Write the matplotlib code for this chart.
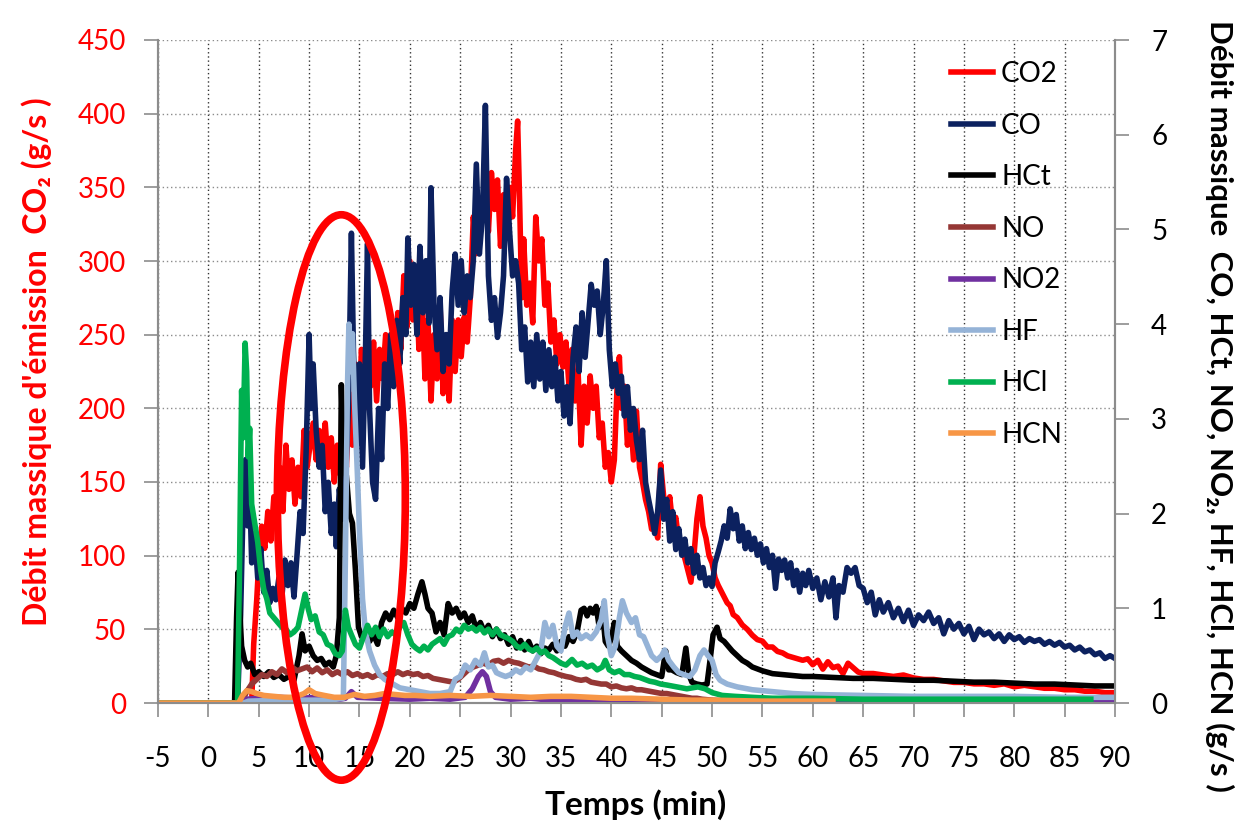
import matplotlib
matplotlib.use("Agg")
import matplotlib.pyplot as plt
from matplotlib.patches import Ellipse

# ---- data (time in min) ----
t_co2 = [-5, 4.3, 4.5, 4.8, 5.0, 5.3, 5.6, 5.9, 6.2, 6.5, 6.8, 7.1, 7.4, 7.7, 8.0, 8.3, 8.6, 8.9, 9.2, 9.5,
         9.8, 10.1, 10.4, 10.7, 11.0, 11.3, 11.6, 11.9, 12.2, 12.5, 12.8, 13.1, 13.4, 13.7, 14.0, 14.3, 14.6,
         14.9, 15.2, 15.5, 15.8, 16.1, 16.4, 16.7, 17.0, 17.3, 17.6, 17.9, 18.2, 18.5, 18.8, 19.1, 19.4, 19.7,
         20.0, 20.3, 20.6, 20.9, 21.2, 21.5, 21.8, 22.1, 22.4, 22.7, 23.0, 23.3, 23.6, 23.9, 24.2, 24.5, 24.8,
         25.1, 25.4, 25.7, 26.0, 26.3, 26.6, 26.9, 27.2, 27.5, 27.8, 28.1, 28.4, 28.7, 29.0, 29.3, 29.6, 29.9,
         30.2, 30.5, 30.7, 30.9, 31.1, 31.3, 31.6, 31.9, 32.2, 32.5, 32.8, 33.1, 33.4, 33.7, 34.0, 34.3, 34.6,
         34.9, 35.2, 35.5, 35.8, 36.1, 36.4, 36.7, 37.0, 37.3, 37.6, 37.9, 38.2, 38.5, 38.8, 39.1, 39.4, 39.7,
         40.0, 40.3, 40.6, 40.8, 41.0, 41.3, 41.6, 41.9, 42.2, 42.5, 42.8, 43.1, 43.4, 43.7, 44.0, 44.3, 44.6,
         44.9, 45.2, 45.5, 45.8, 46.1, 46.4, 46.7, 47.0, 47.3, 47.6, 47.9, 48.2, 48.5, 48.8, 49.1, 49.4, 49.7,
         50.0, 50.3, 50.6, 50.9, 51.2, 51.5, 51.8, 52.1, 52.5, 53.0, 53.5, 54.0, 54.5, 55.0, 55.5, 56.0, 56.5,
         57.0, 57.5, 58.0, 58.5, 59.0, 59.5, 60.0, 60.5, 61.0, 61.5, 62.0, 62.5, 63.0, 63.5, 64.0, 64.5, 65,
         66, 67, 68, 69, 70, 71, 72, 73, 74, 75, 76, 77, 78, 79, 80, 81, 82, 83, 84, 85, 86, 87, 88, 89, 90]
co2 = [0, 0, 40, 70, 95, 120, 105, 130, 110, 140, 120, 160, 130, 175, 145, 165, 135, 160, 140, 185,
       160, 175, 190, 165, 185, 170, 190, 160, 180, 150, 175, 155, 190, 160, 210, 175, 230,
       190, 240, 200, 250, 215, 245, 205, 240, 220, 250, 225, 245, 230, 265, 240, 290, 255,
       300, 260, 295, 240, 280, 220, 260, 205, 250, 220, 270, 210, 245, 205, 260, 225, 260,
       235, 262, 245, 275, 330, 305, 340, 330, 350, 320, 360, 335, 355, 310, 345, 325, 350,
       330, 375, 395, 340, 275, 315, 270, 285, 258, 330, 300, 315, 270, 285, 245, 260, 230,
       250, 228, 245, 215, 240, 205, 225, 175, 215, 190, 222, 200, 215, 180, 190, 160, 170,
       150, 165, 220, 235, 200, 215, 175, 195, 165, 198, 160, 150, 138, 130, 118, 125, 112,
       162, 140, 128, 140, 120, 126, 110, 105, 98, 90, 82, 100, 125, 140, 120, 112, 100,
       95, 85, 80, 76, 72, 68, 66, 60, 58, 53, 50, 46, 43, 42, 38, 38, 35,
       34, 32, 31, 30, 29, 30, 26, 29, 23, 28, 24, 25, 20, 27, 24, 21, 20,
       20, 19, 18, 19, 17, 16, 16, 15, 14, 14, 13, 13, 12, 13, 11, 12, 11, 10, 10, 9, 9, 8, 8, 7, 7]

t_co = [-5, 2.9, 3.2, 3.5, 3.7, 3.9, 4.1, 4.3, 4.6, 4.9, 5.2, 5.5, 5.8, 6.1, 6.4, 6.7, 7.0, 7.3, 7.6, 7.9,
        8.2, 8.5, 8.8, 9.1, 9.4, 9.7, 10.0, 10.2, 10.4, 10.7, 11.0, 11.3, 11.6, 11.9, 12.2, 12.5, 12.7,
        13.0, 13.3, 13.6, 13.9, 14.2, 14.4, 14.7, 15.0, 15.3, 15.6, 15.8, 16.0, 16.3, 16.6, 16.9, 17.2,
        17.5, 17.8, 18.1, 18.4, 18.7, 19.0, 19.3, 19.6, 19.8, 20.1, 20.4, 20.7, 21.0, 21.3, 21.6, 21.9,
        22.1, 22.4, 22.7, 23.0, 23.3, 23.6, 23.9, 24.2, 24.5, 24.8, 25.1, 25.4, 25.7, 26.0, 26.3, 26.6,
        26.9, 27.2, 27.5, 27.8, 28.1, 28.4, 28.7, 29.0, 29.3, 29.6, 29.9, 30.2, 30.5, 30.8, 31.1, 31.4,
        31.7, 32.0, 32.3, 32.6, 32.9, 33.2, 33.5, 33.8, 34.1, 34.4, 34.7, 35.0, 35.3, 35.6, 35.9, 36.2,
        36.5, 36.8, 37.1, 37.4, 37.7, 38.0, 38.3, 38.6, 38.9, 39.2, 39.5, 39.8, 40.1, 40.4, 40.7, 41.0,
        41.3, 41.6, 41.9, 42.2, 42.5, 42.8, 43.1, 43.4, 43.7, 44.0, 44.3, 44.6, 44.9, 45.2, 45.5, 45.8,
        46.1, 46.4, 46.7, 47.0, 47.3, 47.6, 47.9, 48.2, 48.5, 48.8, 49.1, 49.4, 49.7, 50.0, 50.3, 50.6,
        50.9, 51.2, 51.5, 51.8, 52.1, 52.4, 52.7, 53.0, 53.3, 53.6, 53.9, 54.2, 54.5, 54.8, 55.1, 55.4,
        55.7, 56.0, 56.3, 56.6, 56.9, 57.2, 57.5, 57.8, 58.1, 58.4, 58.7, 59.0, 59.3, 59.6, 60.0, 60.4,
        60.8, 61.2, 61.6, 62.0, 62.3, 62.6, 63.0, 63.4, 63.8, 64.2, 64.6, 65.0, 65.4, 65.8, 66.2, 66.6,
        67.0, 67.5, 68.0, 68.5, 69.0, 69.5, 70.0, 70.5, 71.0, 71.5, 72.0, 72.5, 73.0, 73.5, 74.0, 74.5,
        75.0, 75.5, 76.0, 76.5, 77.0, 77.5, 78.0, 78.5, 79.0, 79.5, 80.0, 80.5, 81.0, 81.5, 82.0, 82.5,
        83.0, 83.5, 84.0, 84.5, 85.0, 85.5, 86.0, 86.5, 87.0, 87.5, 88.0, 88.5, 89.0, 89.5, 90.0]
co = [0, 0, 0.93, 2.33, 2.57, 1.87, 2.26, 1.48, 1.79, 1.32, 1.63, 1.17, 1.40, 1.06, 1.21, 1.09, 1.32, 1.12, 1.51, 1.24,
      1.48, 1.12, 1.56, 2.02, 1.79, 2.64, 3.89, 3.11, 3.58, 2.88, 2.49, 2.72, 2.02, 2.33, 1.79, 2.10, 1.65,
      2.26, 1.94, 2.33, 3.11, 4.96, 3.73, 2.72, 3.58, 2.49, 3.73, 4.85, 3.11, 2.33, 2.15, 3.11, 2.57,
      3.58, 3.11, 3.89, 3.34, 4.04, 3.58, 4.28, 3.89, 4.91, 4.20, 4.63, 3.89, 4.82, 4.12, 4.67, 4.01,
      5.44, 4.20, 3.73, 4.28, 3.50, 3.89, 3.58, 4.35, 4.74, 4.20, 4.67, 4.12, 4.51, 4.28, 4.67, 5.69,
      4.74, 5.13, 6.31, 4.51, 4.04, 4.28, 3.86, 4.12, 4.51, 5.54, 4.98, 4.51, 4.67, 4.43, 3.73, 3.97,
      3.39, 3.81, 3.34, 3.89, 3.42, 3.81, 3.30, 3.73, 3.34, 3.65, 3.19, 3.50, 3.03, 3.34, 2.95, 3.65,
      3.97, 3.50, 4.12, 3.65, 4.04, 4.42, 4.20, 4.35, 3.89, 4.20, 4.67, 3.73, 3.34, 3.58, 3.27, 3.45,
      3.03, 3.34, 2.88, 3.11, 2.77, 2.57, 2.88, 2.33, 2.15, 1.99, 1.79, 2.02, 2.46, 1.94, 2.15, 1.71,
      2.02, 1.62, 1.84, 1.56, 1.73, 1.48, 1.63, 1.37, 1.56, 1.32, 1.43, 1.24, 1.32, 1.23, 1.48, 1.59,
      1.71, 1.87, 1.74, 2.05, 1.84, 1.99, 1.71, 1.87, 1.63, 1.80, 1.62, 1.74, 1.56, 1.68, 1.48, 1.63,
      1.43, 1.56, 1.21, 1.52, 1.40, 1.51, 1.32, 1.48, 1.24, 1.40, 1.17, 1.37, 1.24, 1.40, 1.21, 1.32,
      1.09, 1.28, 1.12, 1.32, 0.90, 1.24, 1.17, 1.43, 1.37, 1.43, 1.24, 1.21, 1.06, 1.17, 0.93, 1.09,
      0.96, 1.06, 0.90, 1.00, 0.86, 0.98, 0.82, 0.93, 0.87, 0.96, 0.84, 0.90, 0.73, 0.87, 0.78, 0.84,
      0.73, 0.81, 0.67, 0.78, 0.72, 0.75, 0.68, 0.73, 0.65, 0.72, 0.67, 0.70, 0.64, 0.68, 0.65, 0.67,
      0.62, 0.65, 0.61, 0.64, 0.59, 0.61, 0.56, 0.59, 0.54, 0.56, 0.51, 0.53, 0.47, 0.50, 0.47]

t_hct = [-5, 2.6, 2.8, 2.95, 3.1, 3.3, 3.6, 3.9, 4.2, 4.6, 5.0, 5.5, 6.0, 6.5, 7.0, 7.5, 8.0, 8.5, 9.0, 9.3,
         9.6, 10.0, 10.4, 10.8, 11.2, 11.6, 12.0, 12.4, 12.7, 13.0, 13.2, 13.4, 13.7, 14.0, 14.3, 14.6, 14.9,
         15.2, 15.6, 16.0, 16.4, 16.8, 17.2, 17.6, 18.0, 18.4, 18.8, 19.2, 19.6, 20.0, 20.4, 20.8, 21.2,
         21.5, 21.8, 22.2, 22.6, 23.0, 23.4, 23.8, 24.2, 24.6, 25.0, 25.4, 25.8, 26.2, 26.6, 27.0, 27.4,
         27.8, 28.2, 28.6, 29.0, 29.4, 29.8, 30.2, 30.6, 31.0, 31.4, 31.8, 32.2, 32.6, 33.0, 33.4, 33.8,
         34.2, 34.6, 35.0, 35.4, 35.8, 36.2, 36.6, 37.0, 37.3, 37.6, 37.9, 38.2, 38.5, 38.8, 39.1, 39.4,
         39.7, 40.0, 40.3, 40.6, 41.0, 41.5, 42.0, 42.5, 43.0, 43.5, 44.0, 44.5, 45.0, 45.4, 45.7, 46.0,
         46.5, 47.0, 47.4, 47.7, 48.0, 48.5, 49.0, 49.5, 49.8, 50.1, 50.5, 50.8, 51.2, 51.6, 52.0, 52.5,
         53.0, 53.5, 54.0, 54.5, 55.0, 56.0, 57.0, 58.0, 59.0, 60, 62, 64, 66, 68, 70, 72, 74, 76, 78,
         80, 82, 84, 86, 88, 90]
hct = [0, 0, 0.9, 1.38, 1.0, 0.6, 0.45, 0.38, 0.42, 0.3, 0.33, 0.28, 0.33, 0.27, 0.30, 0.25, 0.28, 0.24, 0.5, 0.73,
       0.55, 0.6, 0.5, 0.45, 0.47, 0.40, 0.43, 0.38, 0.5, 0.9, 3.36, 2.5, 2.4, 2.0, 1.9, 1.4, 0.8,
       0.7, 0.75, 0.65, 0.72, 0.62, 0.85, 0.95, 0.88, 0.98, 0.9, 1.0, 0.95, 1.05, 1.0, 1.15, 1.28,
       1.15, 1.0, 0.95, 0.75, 0.85, 0.72, 1.05, 0.95, 1.0, 0.9, 0.95, 0.85, 0.92, 0.78, 0.85, 0.75,
       0.82, 0.7, 0.78, 0.68, 0.72, 0.62, 0.7, 0.58, 0.66, 0.56, 0.65, 0.55, 0.6, 0.52, 0.58, 0.56,
       0.62, 0.55, 0.65, 0.6, 0.7, 0.65, 0.75, 0.98, 1.0, 0.92, 1.0, 0.95, 1.02, 0.8, 1.0, 0.65,
       0.6, 0.68, 0.85, 0.6, 0.55, 0.5, 0.45, 0.42, 0.38, 0.35, 0.32, 0.3, 0.28, 0.55, 0.35, 0.35,
       0.32, 0.3, 0.58, 0.3, 0.22, 0.2, 0.19, 0.2, 0.45, 0.72, 0.8, 0.68, 0.65, 0.6, 0.55, 0.5,
       0.45, 0.42, 0.38, 0.36, 0.34, 0.31, 0.30, 0.29, 0.28, 0.28, 0.27, 0.26, 0.26, 0.25, 0.24, 0.24, 0.23, 0.22, 0.22,
       0.21, 0.2, 0.2, 0.19, 0.18, 0.18]

t_no = [-5, 3.3, 3.8, 4.3, 4.8, 5.3, 5.8, 6.3, 6.8, 7.3, 7.8, 8.3, 8.8, 9.3, 9.8, 10.3, 10.8, 11.3, 11.8,
        12.3, 12.8, 13.3, 13.8, 14.3, 14.8, 15.3, 15.8, 16.3, 16.8, 17.3, 17.8, 18.3, 18.8, 19.3, 19.8,
        20.3, 20.8, 21.3, 21.8, 22.3, 22.8, 23.3, 23.8, 24.3, 24.8, 25.3, 25.8, 26.3, 26.8, 27.3, 27.8,
        28.3, 28.8, 29.3, 29.8, 30.3, 30.8, 31.3, 31.8, 32.3, 32.8, 33.3, 33.8, 34.3, 34.8, 35.5, 36.0,
        36.5, 37.0, 37.5, 38.0, 38.5, 39.0, 39.5, 40.0, 40.5, 41.0, 41.5, 42.0, 42.5, 43.0, 43.5, 44.0,
        44.5, 45.0, 45.5, 46.0, 46.5, 47.0, 47.5, 48.0, 48.5, 49.0, 50.0, 52, 55, 60, 62]
no = [0, 0, 0.12, 0.2, 0.25, 0.3, 0.28, 0.33, 0.3, 0.36, 0.32, 0.38, 0.34, 0.36, 0.38, 0.33, 0.37, 0.32, 0.35,
      0.3, 0.33, 0.3, 0.33, 0.29, 0.31, 0.28, 0.3, 0.27, 0.3, 0.28, 0.31, 0.3, 0.33, 0.3, 0.32,
      0.3, 0.31, 0.28, 0.29, 0.26, 0.25, 0.24, 0.23, 0.22, 0.25, 0.3, 0.35, 0.38, 0.4, 0.42, 0.4,
      0.44, 0.45, 0.42, 0.45, 0.43, 0.42, 0.4, 0.38, 0.39, 0.36, 0.35, 0.33, 0.32, 0.3, 0.28, 0.27,
      0.25, 0.24, 0.25, 0.22, 0.21, 0.2, 0.2, 0.17, 0.18, 0.16, 0.15, 0.16, 0.14, 0.14, 0.13, 0.12,
      0.11, 0.1, 0.1, 0.09, 0.08, 0.07, 0.06, 0.05, 0.05, 0.04, 0.03, 0.02, 0.02, 0.02, 0.02]

t_no2 = [-5, 3.3, 3.8, 5, 7, 9, 11, 12.5, 13.6, 14.2, 14.8, 17, 20, 22, 24, 25.5, 26.2, 26.8, 27.2, 27.6,
         28.0, 28.5, 30, 32, 34, 36, 38, 40, 45, 50, 55, 62, 63, 70, 80, 90]
no2 = [0, 0, 0.04, 0.05, 0.06, 0.05, 0.06, 0.03, 0.05, 0.12, 0.06, 0.05, 0.04, 0.05, 0.04, 0.06, 0.15, 0.28, 0.33, 0.28,
       0.12, 0.06, 0.04, 0.05, 0.03, 0.04, 0.03, 0.03, 0.02, 0.02, 0.01, 0.01, 0.02, 0.02, 0.02, 0.02]

t_hf = [-5, 3.5, 4, 8, 12, 13.4, 13.6, 13.8, 13.95, 14.1, 14.3, 14.5, 14.8, 15.0, 15.3, 15.6, 16.0, 16.5,
        17.0, 17.5, 18.0, 19.0, 20.0, 21.0, 22.0, 23.0, 24.0, 24.5, 25.0, 25.5, 26.0, 26.5, 27.0, 27.4,
        27.8, 28.2, 28.6, 29.0, 29.5, 30.0, 30.5, 31.0, 31.5, 32.0, 32.5, 33.0, 33.4, 33.8, 34.2, 34.6,
        35.0, 35.4, 35.8, 36.2, 36.6, 37.0, 37.5, 38.0, 38.5, 39.0, 39.3, 39.6, 40.0, 40.4, 40.8, 41.1,
        41.5, 42.0, 42.4, 42.8, 43.2, 43.6, 44.0, 44.5, 45.0, 45.3, 45.7, 46.2, 46.7, 47.2, 47.8, 48.3,
        48.8, 49.2, 49.6, 50.0, 50.4, 50.8, 51.5, 52.5, 54, 56, 58, 60, 65, 70, 75, 80, 85, 90]
hf = [0, 0, 0.02, 0.03, 0.03, 0.05, 1.5, 3.3, 4.0, 3.5, 3.9, 3.2, 2.4, 1.8, 1.1, 0.75, 0.55, 0.4,
      0.3, 0.25, 0.22, 0.16, 0.14, 0.12, 0.1, 0.1, 0.12, 0.25, 0.28, 0.4, 0.35, 0.45, 0.4, 0.53,
      0.38, 0.4, 0.32, 0.3, 0.28, 0.3, 0.35, 0.32, 0.38, 0.35, 0.45, 0.55, 0.85, 0.7, 0.82, 0.6,
      0.55, 0.8, 0.95, 0.7, 0.75, 0.68, 0.72, 0.68, 0.75, 0.88, 1.08, 0.72, 0.5, 0.6, 0.9, 1.08,
      0.95, 0.85, 0.9, 0.72, 0.7, 0.6, 0.5, 0.45, 0.5, 0.56, 0.45, 0.38, 0.32, 0.3, 0.28, 0.35,
      0.5, 0.56, 0.5, 0.45, 0.3, 0.24, 0.2, 0.17, 0.14, 0.12, 0.1, 0.09, 0.08, 0.07, 0.07, 0.07, 0.06, 0.06]

t_hcl = [-5, 2.9, 3.1, 3.3, 3.45, 3.65, 3.8, 3.95, 4.1, 4.3, 4.6, 4.9, 5.2, 5.5, 5.8, 6.1, 6.5, 6.9, 7.3,
         7.7, 8.1, 8.5, 8.9, 9.3, 9.6, 9.9, 10.2, 10.6, 11.0, 11.4, 11.8, 12.2, 12.6, 13.0, 13.3, 13.6,
         13.9, 14.2, 14.6, 15.0, 15.4, 15.8, 16.2, 16.6, 17.0, 17.4, 17.8, 18.2, 18.6, 19.0, 19.4, 19.8,
         20.2, 20.6, 21.0, 21.4, 21.8, 22.2, 22.6, 23.0, 23.4, 23.8, 24.2, 24.6, 25.0, 25.4, 25.8, 26.2,
         26.6, 27.0, 27.4, 27.8, 28.2, 28.6, 29.0, 29.4, 29.8, 30.2, 30.6, 31.0, 31.4, 31.8, 32.2, 32.6,
         33.0, 33.4, 33.8, 34.2, 34.6, 35.0, 35.5, 36.1, 36.6, 37.1, 37.6, 38.1, 38.6, 39.1, 39.4, 39.8,
         40.3, 40.8, 41.3, 41.8, 42.3, 42.8, 43.3, 43.8, 44.3, 44.9, 45.5, 46.5, 47.5, 48.6, 49.3, 50.0,
         51, 52.3, 54, 56, 60, 65, 70, 75, 80, 85, 87.6]
hcl = [0, 0, 1.5, 3.3, 2.8, 3.8, 3.5, 2.6, 2.9, 2.1, 1.9, 1.7, 1.4, 1.2, 1.1, 0.95, 0.9, 0.85, 0.8,
       0.78, 0.72, 0.75, 0.8, 1.0, 1.15, 1.0, 0.88, 0.92, 0.75, 0.72, 0.62, 0.6, 0.52, 0.5, 0.55, 0.98,
       0.8, 0.72, 0.62, 0.58, 0.7, 0.82, 0.72, 0.8, 0.7, 0.78, 0.7, 0.75, 0.72, 0.8, 0.85, 0.72,
       0.62, 0.58, 0.55, 0.6, 0.56, 0.62, 0.65, 0.68, 0.62, 0.7, 0.72, 0.78, 0.75, 0.82, 0.78, 0.8,
       0.76, 0.8, 0.74, 0.78, 0.72, 0.78, 0.72, 0.7, 0.68, 0.65, 0.6, 0.58, 0.62, 0.57, 0.55, 0.58,
       0.53, 0.55, 0.5, 0.48, 0.45, 0.42, 0.4, 0.46, 0.4, 0.42, 0.38, 0.4, 0.35, 0.38, 0.45, 0.35,
       0.32, 0.34, 0.3, 0.3, 0.28, 0.27, 0.25, 0.23, 0.22, 0.2, 0.19, 0.17, 0.15, 0.17, 0.15, 0.11,
       0.08, 0.07, 0.06, 0.05, 0.05, 0.04, 0.04, 0.04, 0.04, 0.04, 0.04]

t_hcn = [-5, 3.0, 3.4, 3.8, 4.3, 4.8, 5.5, 6.5, 7.5, 8.5, 9.5, 10.0, 10.6, 11.5, 12.5, 13.5, 14.5, 15.5,
         16.5, 17.5, 18.5, 19.5, 20.5, 22, 24, 26, 28, 30, 32, 34, 36, 38, 40, 42, 45, 48, 50, 55, 60, 62]
hcn = [0, 0, 0.08, 0.13, 0.12, 0.1, 0.08, 0.07, 0.06, 0.06, 0.1, 0.14, 0.1, 0.08, 0.06, 0.06, 0.09, 0.07,
       0.08, 0.1, 0.09, 0.08, 0.08, 0.07, 0.08, 0.07, 0.08, 0.07, 0.06, 0.07, 0.07, 0.06, 0.05, 0.05, 0.04, 0.03, 0.03, 0.02, 0.02, 0.02]

right_series = [
    ("CO", t_co, co, "#0C215F"),
    ("HCt", t_hct, hct, "#000000"),
    ("NO", t_no, no, "#953735"),
    ("NO2", t_no2, no2, "#7030A0"),
    ("HF", t_hf, hf, "#95B3D7"),
    ("HCl", t_hcl, hcl, "#00B050"),
    ("HCN", t_hcn, hcn, "#F79646"),
]

plt.rcParams["font.family"] = ["Lato", "DejaVu Sans"]
plt.rcParams["axes.unicode_minus"] = False

W, H = 1238, 827
fig = plt.figure(figsize=(W / 100, H / 100), dpi=100)
ax = fig.add_axes([158 / W, 1 - 703 / H, (1115 - 158) / W, (703 - 40) / H])
ax2 = ax.twinx()

lw = 4.0
h_co2, = ax.plot(t_co2, co2, color="#FF0000", lw=lw, label="CO2")
handles = [h_co2]
for name, tt, vv, col in right_series:
    h, = ax2.plot(tt, vv, color=col, lw=lw, label=name)
    handles.append(h)

ax.set_xlim(-5, 90)
ax.set_ylim(0, 450)
ax2.set_ylim(0, 7)
ax.set_xticks(range(-5, 91, 5))
ax.set_yticks(range(0, 451, 50))
ax2.set_yticks(range(0, 8))

ax.set_axisbelow(True)
ax.xaxis.grid(True, linestyle=(0, (1, 2)), color="#333333", lw=1.0)
ax.yaxis.grid(True, linestyle=(0, (1, 2)), color="#8c8c8c", lw=1.0)

for a in (ax, ax2):
    a.spines["top"].set_visible(False)
    for s in ("left", "right", "bottom"):
        a.spines[s].set_color("#8c8c8c")
        a.spines[s].set_linewidth(1.5)

ax.tick_params(axis="y", colors="#8c8c8c", labelcolor="#FF0000", labelsize=20, length=10, width=1.2, pad=13)
ax2.tick_params(axis="y", colors="#8c8c8c", labelcolor="black", labelsize=20, length=10, width=1.2, pad=16)
ax.tick_params(axis="x", colors="#8c8c8c", labelcolor="black", labelsize=20, length=10, width=1.2, pad=21)

xl = ax.set_xlabel("Temps (min)", fontsize=24, fontweight="bold")
ax.xaxis.set_label_coords((636 - 158) / 957, (703 - 805) / 663)
xl.set_va("center")
yl = ax.set_ylabel("Débit massique d'émission  CO₂ (g/s )", fontsize=23, fontweight="bold", color="#FF0000")
ax.yaxis.set_label_coords((37 - 158) / 957, (703 - 362) / 663)
yl.set_va("center")
yr = ax2.set_ylabel("Débit massique  CO, HCt, NO, NO₂, HF, HCl, HCN (g/s )", fontsize=22.5,
                    fontweight="bold", rotation=-90)
ax2.yaxis.set_label_coords((1220 - 158) / 957, (703 - 406) / 663)
yr.set_va("center")

leg = ax2.legend(handles=handles, loc="upper left", bbox_to_anchor=(940 / W, 1 - 50 / H),
                 bbox_transform=fig.transFigure, frameon=False, prop={"size": 20},
                 labelspacing=0.92, handlelength=1.5, handletextpad=0.3, borderaxespad=0)

# red highlight ellipse (right-axis units)
ell_center = (13.2, 2.17)
ell_w, ell_h = 12.7, 5.97
ax2.add_patch(Ellipse(ell_center, ell_w, ell_h, fill=False, edgecolor="#FF0000",
                      lw=5.5, clip_on=False, zorder=10))

fig.savefig("out.png", dpi=100)
